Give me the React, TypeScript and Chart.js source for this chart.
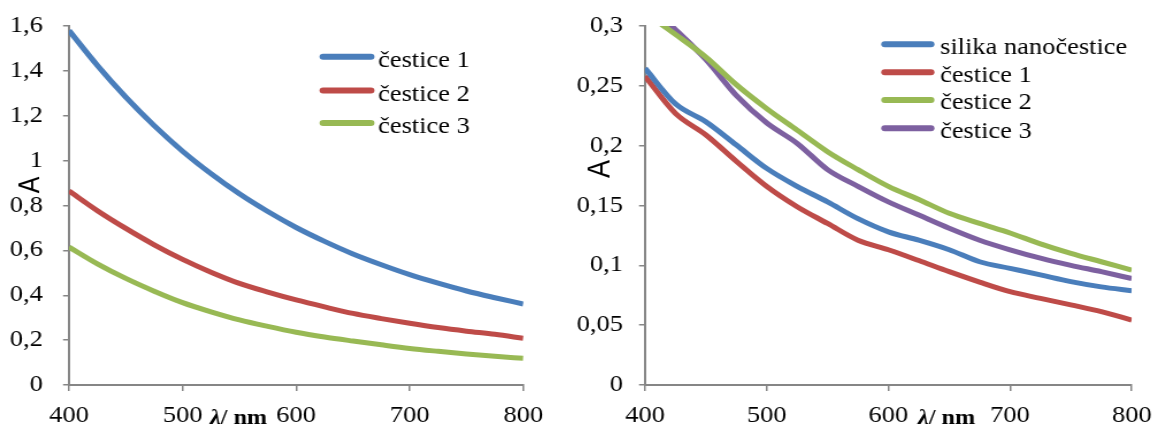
import React, { useEffect, useRef } from 'react';
import { Chart, registerables } from 'chart.js';

Chart.register(...registerables);

// horizontal stretch of the original picture (glyphs are wider than tall)
const STRETCH = 1.15;
const SERIF = '"Liberation Serif", "Times New Roman", serif';
const SANS = '"Liberation Sans", Arial, sans-serif';

const BLUE = '#4a7ebb';
const RED = '#be4b48';
const GREEN = '#98b954';
const PURPLE = '#7d60a0';
const AXIS = '#868686';

// ---------- data ----------
const xTickValues = [400, 500, 600, 700, 800];

const leftWavelengths = [400, 425, 450, 475, 500, 525, 550, 575, 600, 625, 650, 675, 700, 725, 750, 775, 800];
const leftCestice1 = [1.58, 1.424, 1.283, 1.156, 1.042, 0.942, 0.852, 0.773, 0.702, 0.64, 0.584, 0.536, 0.492, 0.454, 0.419, 0.389, 0.361];
const leftCestice2 = [0.865, 0.777, 0.698, 0.625, 0.56, 0.503, 0.453, 0.414, 0.379, 0.348, 0.319, 0.296, 0.275, 0.256, 0.24, 0.226, 0.208];
const leftCestice3 = [0.615, 0.54, 0.475, 0.418, 0.367, 0.326, 0.29, 0.261, 0.235, 0.214, 0.196, 0.179, 0.163, 0.15, 0.138, 0.128, 0.119];
const leftLabels = ['čestice 1', 'čestice 2', 'čestice 3'];
const leftYTicks = [0, 0.2, 0.4, 0.6, 0.8, 1, 1.2, 1.4, 1.6];

const rightWavelengths = [400, 425, 450, 475, 500, 525, 550, 575, 600, 625, 650, 675, 700, 725, 750, 775, 800];
const rightSilika = [0.2646, 0.235, 0.22, 0.2006, 0.181, 0.166, 0.153, 0.139, 0.128, 0.121, 0.113, 0.103, 0.0975, 0.092, 0.0864, 0.082, 0.0788];
const rightCestice1 = [0.258, 0.227, 0.209, 0.187, 0.166, 0.149, 0.135, 0.121, 0.113, 0.104, 0.0947, 0.086, 0.078, 0.0724, 0.0669, 0.0613, 0.0543];
const rightCestice2 = [0.311, 0.293, 0.274, 0.251, 0.231, 0.213, 0.195, 0.18, 0.166, 0.155, 0.1435, 0.135, 0.127, 0.118, 0.11, 0.103, 0.096];
const rightCestice3 = [0.32, 0.297, 0.272, 0.242, 0.219, 0.202, 0.18, 0.166, 0.153, 0.142, 0.131, 0.121, 0.113, 0.106, 0.1, 0.0947, 0.089];
const rightLabels = ['silika nanočestice', 'čestice 1', 'čestice 2', 'čestice 3'];
const rightYTicks = [0, 0.05, 0.1, 0.15, 0.2, 0.25, 0.3];

const yTitle = 'A';
const xTitleSymbol = 'λ';
const xTitleUnit = '/ nm';

// ---------- helpers ----------
const fmt = (v: number) => String(Math.round(v * 1000) / 1000).replace('.', ',');
const toPoints = (xs: number[], ys: number[]) => xs.map((x, i) => ({ x, y: ys[i] }));

type PanelProps = {
  left: number;
  cssWidth: number;
  canvasWidth: number;
  xs: number[];
  series: number[][];
  labels: string[];
  colors: string[];
  yTicks: number[];
  yAxisWidth: number;
  yTickPadding: number;
  padRight: number;
  legendLineX1: number;
  legendLineX2: number;
  legendTextX: number;
  legendRows: number[];
  legendBaselineOffset: number;
  yTitleX: number;
  yTitleY: number;
  yTitleSize: number;
  xTitleX: number;
};

function Panel(p: PanelProps) {
  const ref = useRef<HTMLCanvasElement | null>(null);

  useEffect(() => {
    const canvas = ref.current;
    if (!canvas) return;

    const overlay = {
      id: 'overlay',
      afterDraw(chart: any) {
        const ctx = chart.ctx as CanvasRenderingContext2D;
        ctx.save();
        // legend
        chart.data.datasets.forEach((ds: any, i: number) => {
          const y = p.legendRows[i];
          ctx.strokeStyle = ds.borderColor;
          ctx.lineWidth = 6;
          ctx.lineCap = 'round';
          ctx.beginPath();
          ctx.moveTo(p.legendLineX1 + 2.6, y);
          ctx.lineTo(p.legendLineX2 - 2.6, y);
          ctx.stroke();
          ctx.fillStyle = '#000';
          ctx.font = `23px ${SERIF}`;
          ctx.textAlign = 'left';
          ctx.textBaseline = 'alphabetic';
          ctx.fillText(ds.label, p.legendTextX, y + p.legendBaselineOffset);
        });
        // y axis title (rotated)
        ctx.save();
        ctx.translate(p.yTitleX, p.yTitleY);
        ctx.rotate(-Math.PI / 2);
        ctx.fillStyle = '#000';
        ctx.font = `${p.yTitleSize}px ${SANS}`;
        ctx.textAlign = 'center';
        ctx.textBaseline = 'middle';
        ctx.fillText(yTitle, 0, 0);
        ctx.restore();
        // x axis title
        ctx.fillStyle = '#000';
        ctx.textAlign = 'left';
        ctx.textBaseline = 'alphabetic';
        ctx.font = `italic bold 21px ${SERIF}`;
        ctx.fillText(xTitleSymbol, p.xTitleX, 423.5);
        const w = ctx.measureText(xTitleSymbol).width;
        ctx.font = `bold 21px ${SERIF}`;
        ctx.fillText(xTitleUnit, p.xTitleX + w, 423.5);
        ctx.restore();
      },
    };

    const chart = new Chart(canvas, {
      type: 'line',
      data: {
        datasets: p.series.map((s, i) => ({
          label: p.labels[i],
          data: toPoints(p.xs, s),
          borderColor: p.colors[i],
          backgroundColor: p.colors[i],
          borderWidth: 5,
          pointRadius: 0,
          fill: false,
          cubicInterpolationMode: 'monotone' as const,
        })),
      },
      options: {
        responsive: false,
        animation: false,
        events: [],
        layout: { autoPadding: false, padding: { left: 0, top: 26, right: p.padRight, bottom: 0 } },
        plugins: { legend: { display: false }, tooltip: { enabled: false }, title: { display: false } },
        scales: {
          x: {
            type: 'linear',
            min: xTickValues[0],
            max: xTickValues[xTickValues.length - 1],
            afterBuildTicks: (s: any) => {
              s.ticks = xTickValues.map((v) => ({ value: v }));
            },
            afterFit: (s: any) => {
              s.height = 45;
              s.paddingLeft = 0;
              s.paddingRight = 0;
              s.paddingTop = 0;
              s.paddingBottom = 0;
            },
            ticks: {
              color: '#000',
              font: { family: SERIF, size: 23 },
              padding: 11,
              maxRotation: 0,
              autoSkip: false,
              callback: (v: any) => String(v),
            },
            grid: { display: true, drawOnChartArea: false, drawTicks: true, tickLength: 6, color: AXIS, lineWidth: 1.5 },
            border: { display: true, color: AXIS, width: 2 },
          },
          y: {
            type: 'linear',
            min: p.yTicks[0],
            max: p.yTicks[p.yTicks.length - 1],
            afterBuildTicks: (s: any) => {
              s.ticks = p.yTicks.map((v) => ({ value: v }));
            },
            afterFit: (s: any) => {
              s.width = p.yAxisWidth;
              s.paddingLeft = 0;
              s.paddingRight = 0;
              s.paddingTop = 0;
              s.paddingBottom = 0;
            },
            ticks: {
              color: '#000',
              font: { family: SERIF, size: 23 },
              padding: p.yTickPadding,
              autoSkip: false,
              callback: (v: any) => fmt(Number(v)),
            },
            grid: { display: true, drawOnChartArea: false, drawTicks: true, tickLength: 5.2, color: AXIS, lineWidth: 1.5 },
            border: { display: true, color: AXIS, width: 2 },
          },
        },
      },
      plugins: [overlay],
    } as any);

    return () => chart.destroy();
  }, []);

  return (
    <canvas
      ref={ref}
      width={p.canvasWidth}
      height={430}
      style={{
        position: 'absolute',
        left: `${p.left}px`,
        top: 0,
        width: `${p.cssWidth}px`,
        height: '430px',
        display: 'block',
      }}
    />
  );
}

export default function App() {
  const L = 580 / 504;
  const R0 = 560; // page x where the right canvas starts
  return (
    <div
      style={{
        position: 'fixed',
        left: 0,
        top: 0,
        width: 1155,
        height: 430,
        background: '#fff',
        overflow: 'hidden',
      }}
    >
      <Panel
        left={0}
        cssWidth={580}
        canvasWidth={504}
        xs={leftWavelengths}
        series={[leftCestice1, leftCestice2, leftCestice3]}
        labels={leftLabels}
        colors={[BLUE, RED, GREEN]}
        yTicks={leftYTicks}
        yAxisWidth={69 / L}
        yTickPadding={17.4}
        padRight={504 - 523.3 / L}
        legendLineX1={320 / L}
        legendLineX2={374 / L}
        legendTextX={378 / L}
        legendRows={[56.7, 90.5, 123]}
        legendBaselineOffset={10}
        yTitleX={31 / L}
        yTitleY={185}
        yTitleSize={25}
        xTitleX={210 / L}
      />
      <Panel
        left={R0}
        cssWidth={598}
        canvasWidth={520}
        xs={rightWavelengths}
        series={[rightSilika, rightCestice1, rightCestice2, rightCestice3]}
        labels={rightLabels}
        colors={[BLUE, RED, GREEN, PURPLE]}
        yTicks={rightYTicks}
        yAxisWidth={(645 - R0) / STRETCH}
        yTickPadding={13.9}
        padRight={520 - (1131.7 - R0) / STRETCH}
        legendLineX1={(881.7 - R0) / STRETCH}
        legendLineX2={(934 - R0) / STRETCH}
        legendTextX={(940 - R0) / STRETCH}
        legendRows={[44.3, 72.3, 100, 128.3]}
        legendBaselineOffset={9.4}
        yTitleX={(600.8 - R0) / STRETCH}
        yTitleY={169}
        yTitleSize={27}
        xTitleX={(918 - R0) / STRETCH}
      />
    </div>
  );
}
